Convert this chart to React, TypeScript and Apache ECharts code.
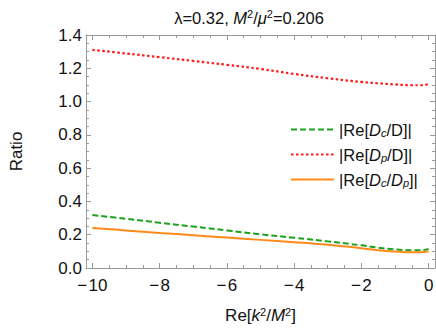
import React, { useEffect, useRef } from "react";
import * as echarts from "echarts";

const xs = [-10, -9, -8, -7, -6, -5, -4, -3, -2, -1.5, -1, -0.5, -0.25, 0];
const dcOverD = [0.318, 0.296, 0.272, 0.249, 0.226, 0.202, 0.182, 0.16, 0.136, 0.122, 0.112, 0.106, 0.106, 0.115];
const dpOverD = [1.311, 1.289, 1.267, 1.244, 1.221, 1.196, 1.166, 1.14, 1.118, 1.11, 1.103, 1.098, 1.098, 1.104];
const dcOverDp = [0.241, 0.226, 0.211, 0.197, 0.183, 0.169, 0.155, 0.139, 0.119, 0.107, 0.099, 0.094, 0.095, 0.101];

const xMajor = [-10, -8, -6, -4, -2, 0];
const xMinor = [-9.5, -9, -8.5, -7.5, -7, -6.5, -5.5, -5, -4.5, -3.5, -3, -2.5, -1.5, -1, -0.5];
const xMin = -10.19;
const xMax = 0.19;

const FONT = "'Liberation Sans', Arial, Helvetica, sans-serif";
const FRAME = "#9a9a9a";
const INK = "#111";

export default function App() {
  const ref = useRef<HTMLDivElement>(null);
  useEffect(() => {
    if (!ref.current) return;
    const chart = echarts.init(ref.current, undefined, { renderer: "svg" });
    const pair = (ys: number[]) => xs.map((x, i) => [x, ys[i]]);
    const xBase = (pos: "bottom" | "top", ticks: number[], len: number, labels: boolean, line: boolean) => ({
      type: "value",
      position: pos,
      min: xMin,
      max: xMax,
      axisLine: { show: line, onZero: false, lineStyle: { color: FRAME, width: 1 } },
      axisTick: { show: true, inside: true, length: len, customValues: ticks, lineStyle: { color: FRAME } },
      axisLabel: labels
        ? {
            show: true,
            customValues: xMajor,
            margin: 9,
            color: INK,
            fontSize: 17,
            fontFamily: FONT,
            formatter: (v: number) => (v < 0 ? "\u2212\u200a" + String(-v) : String(v)),
          }
        : { show: false },
      splitLine: { show: false },
    });
    const yBase = (pos: "left" | "right", labels: boolean) => ({
      type: "value",
      position: pos,
      min: 0,
      max: 1.4,
      interval: 0.2,
      axisLine: { show: true, onZero: false, lineStyle: { color: FRAME, width: 1 } },
      axisTick: { show: true, inside: true, length: 5, lineStyle: { color: FRAME } },
      minorTick: { show: true, splitNumber: 4, length: 3, lineStyle: { color: FRAME } },
      axisLabel: labels
        ? { show: true, margin: 4, color: INK, fontSize: 17, fontFamily: FONT, formatter: (v: number) => v.toFixed(1) }
        : { show: false },
      splitLine: { show: false },
      ...(labels
        ? {
            name: "Ratio",
            nameLocation: "middle",
            nameRotate: 90,
            nameGap: 61,
            nameTextStyle: { color: INK, fontSize: 17, fontFamily: FONT },
          }
        : {}),
    });
    const legendRich = {
      i: { fontStyle: "italic", fontSize: 16.5, fontFamily: FONT, color: INK },
      sub: { fontStyle: "italic", fontSize: 11, fontFamily: FONT, color: INK, padding: [7, 0, 0, 0] },
    };
    const legendNames: Record<string, string> = {
      c: "|Re[{i|D}{sub|c}/D]|",
      p: "|Re[{i|D}{sub|p}/D]|",
      cp: "|Re[{i|D}{sub|c}/{i|D}{sub|p}]|",
    };
    chart.setOption({
      animation: false,
      textStyle: { fontFamily: FONT },
      title: {
        text: "λ=0.32, {i|M}{sup|2}/{i|μ}{sup|2}=0.206",
        left: 244,
        textAlign: "center",
        top: 3,
        textStyle: {
          fontSize: 16.5,
          fontWeight: "normal",
          color: INK,
          fontFamily: FONT,
          rich: {
            i: { fontStyle: "italic", fontSize: 16.5, fontFamily: FONT, color: INK },
            sup: { fontSize: 11, fontFamily: FONT, color: INK, padding: [0, 0, 8, 0] },
          },
        },
      },
      grid: { left: 55, top: 35, right: 1, bottom: 58, containLabel: false },
      xAxis: [
        {
          ...xBase("bottom", xMajor, 5, true, true),
          name: "Re[{i|k}{sup|2}/{i|M}{sup|2}]",
          nameLocation: "middle",
          nameGap: 38,
          nameTextStyle: {
            color: INK,
            fontSize: 17,
            fontFamily: FONT,
            rich: {
              i: { fontStyle: "italic", fontSize: 17, fontFamily: FONT, color: INK },
              sup: { fontSize: 11, fontFamily: FONT, color: INK, padding: [0, 0, 8, 0] },
            },
          },
        },
        xBase("bottom", xMinor, 3, false, false),
        xBase("top", xMajor, 5, false, true),
        xBase("top", xMinor, 3, false, false),
      ],
      yAxis: [yBase("left", true), yBase("right", false)],
      legend: {
        orient: "vertical",
        left: 285,
        top: 115,
        itemWidth: 43,
        itemHeight: 14,
        itemGap: 6,
        data: ["c", "p", "cp"],
        itemStyle: { opacity: 0, color: "transparent", borderWidth: 0 },
        formatter: (name: string) => legendNames[name],
        textStyle: { fontSize: 16.5, color: INK, fontFamily: FONT, lineHeight: 19, rich: legendRich },
      },
      series: [
        {
          name: "c",
          type: "line",
          data: pair(dcOverD),
          smooth: 0.4,
          symbol: "none",
          lineStyle: { color: "#1aa31a", width: 2, type: [6, 3] },
          itemStyle: { color: "#1aa31a" },
        },
        {
          name: "p",
          type: "line",
          data: pair(dpOverD),
          smooth: 0.4,
          symbol: "none",
          lineStyle: { color: "#ff1a1a", width: 2.2, type: [2.5, 2.5] },
          itemStyle: { color: "#ff1a1a" },
        },
        {
          name: "cp",
          type: "line",
          data: pair(dcOverDp),
          smooth: 0.4,
          symbol: "none",
          lineStyle: { color: "#ff8a1a", width: 2, type: "solid" },
          itemStyle: { color: "#ff8a1a" },
        },
      ],
    });
    return () => chart.dispose();
  }, []);
  return <div ref={ref} style={{ width: 436, height: 329, position: "absolute", left: 0, top: 0 }} />;
}
